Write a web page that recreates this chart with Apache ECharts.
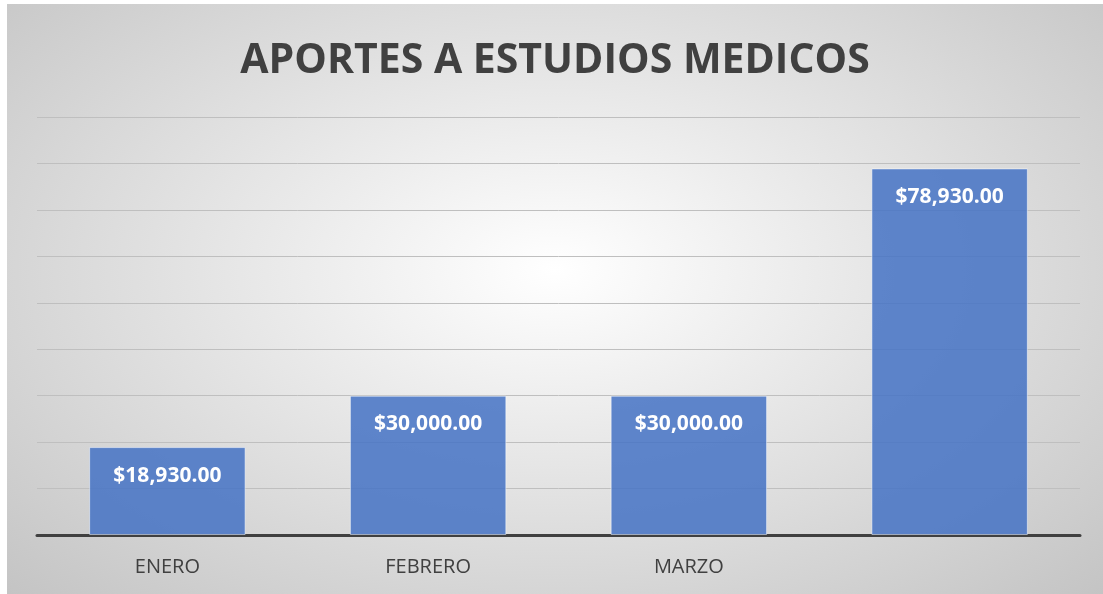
<!DOCTYPE html>
<html>
<head>
<meta charset="utf-8">
<script src="https://cdn.jsdelivr.net/npm/echarts@6/dist/echarts.min.js"></script>
<style>
  html, body { margin: 0; padding: 0; background: #fff; }
  #myChart {
    position: absolute; left: 7px; top: 4px; width: 1096px; height: 590px;
    background: radial-gradient(ellipse farthest-corner at 50% 45%, #ffffff 0%, #c4c4c4 100%);
  }
</style>
</head>
<body>
<div id="myChart"></div>
<script>
// datos del grafico
var categorias = ['ENERO', 'FEBRERO', 'MARZO', '']
var aportes = [18930, 30000, 30000, 78930]
var ejeMin = 0, ejeMax = 90000, ejePaso = 10000

var myChart = echarts.init(document.getElementById('myChart'))

function dinero(v) {
  return '$' + v.toLocaleString('en-US', { minimumFractionDigits: 2, maximumFractionDigits: 2 })
}

myChart.setOption({
  animation: false,
  title: {
    text: 'APORTES A ESTUDIOS MEDICOS',
    left: 'center',
    top: 32,
    textStyle: { fontFamily: 'Open Sans', fontWeight: 'bold', fontSize: 41, color: '#404040' }
  },
  grid: { left: 30, right: 23, top: 113, bottom: 59 },
  xAxis: {
    type: 'category',
    data: categorias,
    axisTick: { show: false },
    axisLine: { lineStyle: { color: '#404040', width: 3 } },
    axisLabel: { margin: 22, fontFamily: 'Open Sans', fontSize: 20, color: '#404040' }
  },
  yAxis: {
    type: 'value',
    min: ejeMin, max: ejeMax, interval: ejePaso,
    axisLabel: { show: false },
    axisLine: { show: false },
    axisTick: { show: false },
    splitLine: { show: true, lineStyle: { color: '#bfbfbf', width: 1 } }
  },
  series: [{
    type: 'bar',
    data: aportes,
    barWidth: '60%',
    itemStyle: {
      color: 'rgba(68,114,196,0.85)',
      borderColor: 'rgba(255,255,255,0.5)',
      borderWidth: 1
    },
    label: {
      show: true,
      position: 'insideTop',
      distance: 18,
      formatter: function (p) { return dinero(p.value) },
      fontFamily: 'Open Sans', fontWeight: 'bold', fontSize: 21, color: '#ffffff'
    }
  }]
})
</script>
</body>
</html>
